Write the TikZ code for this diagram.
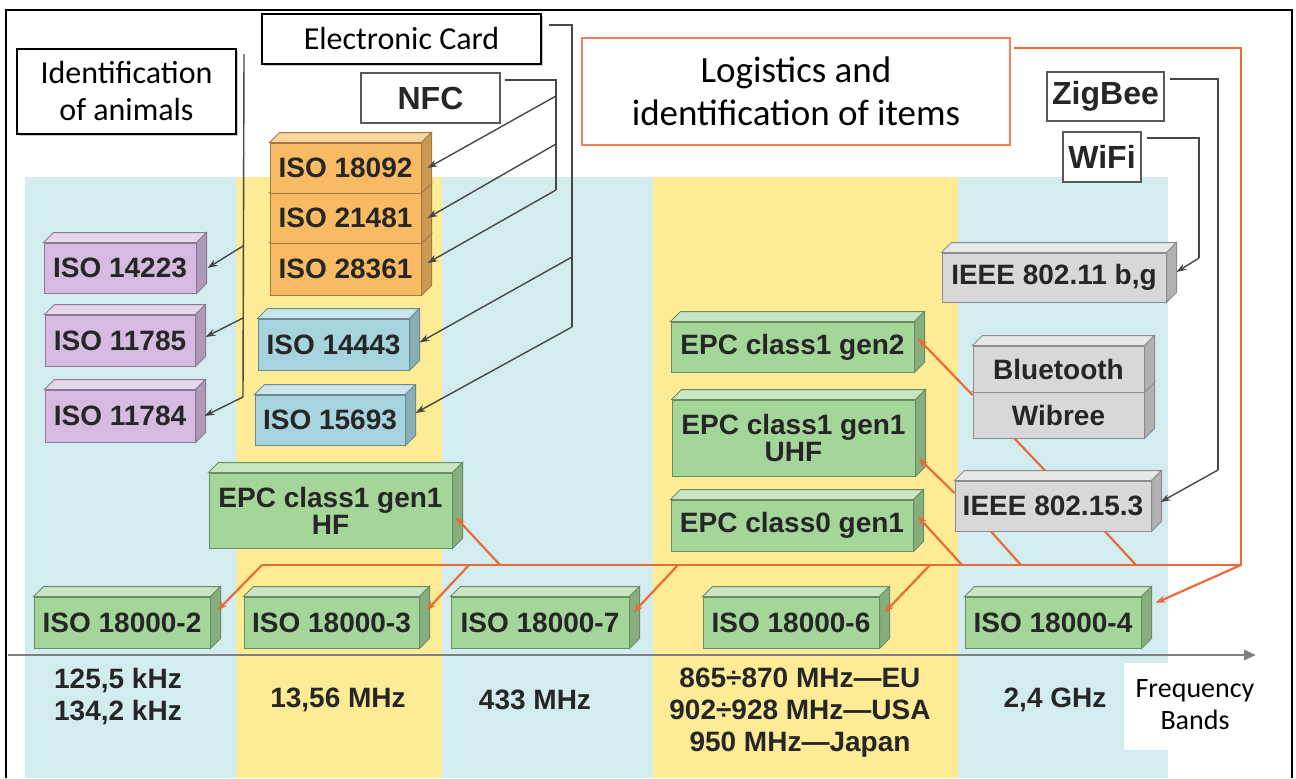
\documentclass[tikz,border=0pt]{standalone}
\usepackage{fontspec}
\setmainfont{Carlito}
\newfontfamily\boxsans{Liberation Sans}
\usepackage{tikz}
\usetikzlibrary{arrows.meta,shadows}

\definecolor{bandblue}{RGB}{211,236,240}
\definecolor{bandyellow}{RGB}{253,235,150}
\definecolor{isopurple}{RGB}{214,186,224}
\definecolor{isoorange}{RGB}{248,187,100}
\definecolor{isocyan}{RGB}{166,212,222}
\definecolor{isogreen}{RGB}{164,214,154}
\definecolor{isogray}{RGB}{216,216,219}
\definecolor{feedorange}{RGB}{232,108,58}
\definecolor{linegray}{RGB}{70,70,70}

\tikzset{
  cube/.style={draw=#1!65!black, fill=#1, line width=0.5pt, inner sep=0pt, align=center,
    font=\boxsans\bfseries\fontsize{14}{13.5}\selectfont, text=black!85,
    append after command={\pgfextra{
      \filldraw[draw=#1!65!black, fill=#1!60!white, line width=0.5pt]
        (\tikzlastnode.north west) -- ++(5pt,5pt) -- ([shift={(5pt,5pt)}]\tikzlastnode.north east)
        -- (\tikzlastnode.north east) -- cycle;
      \filldraw[draw=#1!65!black, fill=#1!82!black, line width=0.5pt]
        (\tikzlastnode.north east) -- ++(5pt,5pt) -- ([shift={(5pt,5pt)}]\tikzlastnode.south east)
        -- (\tikzlastnode.south east) -- cycle;
    }}},
  size/.style 2 args={minimum width=#1, minimum height=#2},
  labelbox/.style={draw=black, line width=1pt, fill=white, inner sep=0pt, align=center,
    font=\fontsize{16}{18.5}\selectfont,
    drop shadow={shadow xshift=1.2pt, shadow yshift=-1.2pt, fill=black!40, opacity=0.5}},
  tagbox/.style={draw=black!65, line width=0.8pt, fill=white, inner sep=0pt,
    font=\boxsans\bfseries\fontsize{16}{18}\selectfont, text=black!85},
  freq/.style={align=center, font=\boxsans\bfseries\fontsize{14}{16}\selectfont, text=black!85},
  link/.style={draw=linegray, line width=0.7pt},
  linkarrow/.style={link, -{Stealth[length=5pt,width=3.5pt]}},
  feed/.style={draw=feedorange, line width=1.1pt},
  feedarrow/.style={feed, -{Stealth[length=5pt,width=3.5pt]}},
}

\begin{document}
\begin{tikzpicture}[x=0.5pt, y=-0.5pt]

\useasboundingbox (0,0) rectangle (1296,778);

% bands
\fill[bandblue] (25,177) rectangle (236,778);
\fill[bandyellow] (236,177) rectangle (442,778);
\fill[bandblue] (442,177) rectangle (653,778);
\fill[bandyellow] (653,177) rectangle (958,778);
\fill[bandblue] (958,177) rectangle (1168,778);
\fill[white] (1124,663) rectangle (1168,750);

% frame
\draw[line width=1pt] (6,778) -- (6,10) -- (1292,10) -- (1292,778);

% axis
\coordinate (axisstart) at (8,655);
\coordinate (axisend) at (1256,655);
\draw[draw=black!50, line width=1.4pt, -{Triangle[length=6pt,width=5pt]}] (axisstart) -- (axisend);

\node[freq] (f125) at (118,697) {125,5 kHz\\134,2 kHz};
\node[freq] (f13) at (338,700) {13,56 MHz};
\node[freq] (f433) at (535,700) {433 MHz};
\node[freq] (f865) at (800,713) {865÷870 MHz—EU\\902÷928 MHz—USA\\950 MHz—Japan};
\node[freq] (f24) at (1055,700) {2,4 GHz};
\node[align=center, font=\fontsize{14}{16}\selectfont] (bands) at (1195,705) {Frequency\\Bands};

% label boxes
\node[labelbox, size={109.5pt}{42.5pt}] (animals) at (126.5,91.5) {Identification\\of animals};
\node[labelbox, size={139.5pt}{25pt}] (card) at (401.5,39) {Electronic Card};
\node[tagbox, size={69.5pt}{25pt}] (nfc) at (430.5,98) {NFC};
\node[draw=feedorange!85, line width=1pt, fill=white, inner sep=0pt, align=center,
  font=\fontsize{18.5}{21.5}\selectfont, size={214pt}{53.5pt}] (logistics) at (796,91.5)
  {Logistics and\\identification of items};
\node[tagbox, size={58.5pt}{24.5pt}] (zigbee) at (1105.5,96.5) {ZigBee};
\node[tagbox, size={39pt}{25pt}] (wifi) at (1102,157) {WiFi};

% cubes
\node[cube=isopurple, size={76pt}{25pt}] (iso14223) at (120,268) {ISO 14223};
\node[cube=isopurple, size={75pt}{25.5pt}] (iso11785) at (120,340.5) {ISO 11785};
\node[cube=isopurple, size={75pt}{26pt}] (iso11784) at (120,416) {ISO 11784};

\node[cube=isoorange, size={75.5pt}{26pt}] (iso28361) at (345.5,269) {ISO 28361};
\node[cube=isoorange, size={75.5pt}{25pt}] (iso21481) at (345.5,218) {ISO 21481};
\node[cube=isoorange, size={75.5pt}{25pt}] (iso18092) at (345.5,168) {ISO 18092};

\node[cube=isocyan, size={75.5pt}{25.5pt}] (iso14443) at (333.5,344.5) {ISO 14443};
\node[cube=isocyan, size={75pt}{25pt}] (iso15693) at (330,420) {ISO 15693};

\node[cube=isogreen, size={121.5pt}{37.5pt}] (epchf) at (330.5,510.5) {EPC class1 gen1\\HF};
\node[cube=isogreen, size={121.5pt}{25pt}] (epcgen2) at (792.5,347) {EPC class1 gen2};
\node[cube=isogreen, size={121.5pt}{38pt}] (epcuhf) at (793.5,438) {EPC class1 gen1\\UHF};
\node[cube=isogreen, size={121pt}{25.5pt}] (epcgen0) at (792,525.5) {EPC class0 gen1};

\node[cube=isogreen, size={88pt}{25.5pt}] (iso180002) at (122,622.5) {ISO 18000-2};
\node[cube=isogreen, size={87.5pt}{25.5pt}] (iso180003) at (331.5,622.5) {ISO 18000-3};
\node[cube=isogreen, size={89pt}{25.5pt}] (iso180007) at (540,622.5) {ISO 18000-7};
\node[cube=isogreen, size={88pt}{25.5pt}] (iso180006) at (791,622.5) {ISO 18000-6};
\node[cube=isogreen, size={88pt}{25.5pt}] (iso180004) at (1053,622.5) {ISO 18000-4};

\node[cube=isogray, size={112pt}{24.5pt}] (ieee80211) at (1054,277.5) {IEEE 802.11 b,g};
\node[cube=isogray, size={85.5pt}{23pt}] (wibree) at (1058.5,415) {Wibree};
\node[cube=isogray, size={85.5pt}{23pt}] (bluetooth) at (1058.5,369) {Bluetooth};
\node[cube=isogray, size={98pt}{25pt}] (ieee802153) at (1053,506) {IEEE 802.15.3};

% gray links
\coordinate (ab1) at (243,246);
\coordinate (ab2) at (243,318);
\coordinate (ab3) at (243,397);
\draw[link] ([xshift=3.5pt,yshift=-3pt]animals.north east) -- (ab3);
\draw[linkarrow] (ab1) -- ([xshift=5.5pt]iso14223.east);
\draw[linkarrow] (ab2) -- ([xshift=5pt,yshift=1.75pt]iso11785.east);
\draw[linkarrow] (ab3) -- ([xshift=4.5pt]iso11784.east);

\coordinate (cb1) at (572,257);
\coordinate (cb2) at (572,327);
\draw[link] ([xshift=3.5pt,yshift=7pt]card.east) -| (cb2);
\draw[linkarrow] (cb1) -- ([xshift=5pt,yshift=1pt]iso14443.east);
\draw[linkarrow] (cb2) -- ([xshift=5pt,yshift=3.5pt]iso15693.east);

\coordinate (nb1) at (556,96);
\coordinate (nb2) at (556,144);
\coordinate (nb3) at (556,190);
\draw[link] ([xshift=2pt,yshift=9pt]nfc.east) -| (nb3);
\draw[linkarrow] (nb1) -- ([xshift=3pt]iso18092.east);
\draw[linkarrow] (nb2) -- ([xshift=3pt]iso21481.east);
\draw[linkarrow] (nb3) -- ([xshift=3pt,yshift=3pt]iso28361.east);

\coordinate (zb) at (1218,470);
\draw[link] ([xshift=2.5pt,yshift=8.75pt]zigbee.east) -| (zb);
\draw[linkarrow] (zb) -- ([xshift=4.5pt,yshift=2pt]ieee802153.east);

\coordinate (wb) at (1199,258);
\draw[link] ([xshift=2.5pt,yshift=9.5pt]wifi.east) -| (wb);
\draw[linkarrow] (wb) -- ([xshift=5pt,yshift=2.75pt]ieee80211.east);

% orange feeds
\coordinate (busR) at (1241,565);
\coordinate (busL) at (262,565);
\coordinate (f3) at (469,565);
\coordinate (fhf) at (500,565);
\coordinate (f7) at (678,565);
\coordinate (f6) at (930,565);
\coordinate (f0) at (962,565);
\coordinate (fa) at (1021,565);
\coordinate (fb) at (1136,565);

\draw[feed, line width=1.3pt] ([xshift=1.5pt,yshift=21.75pt]logistics.east) -| (busR) -- (busL);
\draw[feedarrow] (busL) -- ([xshift=3.5pt,yshift=6pt]iso180002.east);
\draw[feedarrow] (f3) -- ([xshift=3.5pt,yshift=6pt]iso180003.east);
\draw[feedarrow] (f7) -- ([xshift=2pt,yshift=5pt]iso180007.east);
\draw[feedarrow] (f6) -- ([xshift=2.5pt,yshift=5pt]iso180006.east);
\draw[feedarrow] (busR) -- ([xshift=7pt,yshift=9.75pt]iso180004.east);
\draw[feedarrow] (fhf) -- ([xshift=1.5pt,yshift=-3.25pt]epchf.east);
\draw[feedarrow] (f0) -- ([xshift=2pt,yshift=4.75pt]epcgen0.east);
\draw[feedarrow] ([yshift=6.5pt]ieee802153.west) -- ([xshift=1.5pt,yshift=-10pt]epcuhf.east);
\draw[feedarrow] ([yshift=10pt]wibree.west) -- ([xshift=1.5pt,yshift=4.5pt]epcgen2.east);
\draw[feed] ([xshift=-22pt]wibree.south) -- ([xshift=-4pt,yshift=5pt]ieee802153.north);
\draw[feed] ([xshift=-31pt]ieee802153.south) -- (fa);
\draw[feed] ([xshift=26pt]ieee802153.south) -- (fb);

\end{tikzpicture}
\end{document}
